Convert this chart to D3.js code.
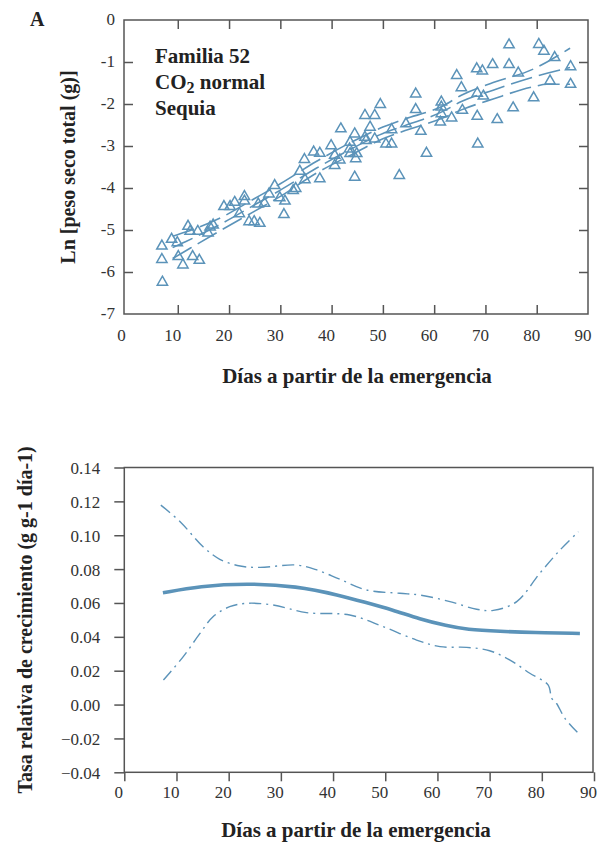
<!DOCTYPE html>
<html>
<head>
<meta charset="utf-8">
<script src="https://cdn.jsdelivr.net/npm/d3@7"></script>
<style>
  body { margin: 0; background: #fff; }
  svg { display: block; }
  text { font-family: "Liberation Serif", "DejaVu Serif", serif; }
</style>
</head>
<body>
<div id="graph"></div>
<script>
// ---- data ----
// panel A: days after emergence, ln total dry weight
var obsDays = [6.9,6.9,7.0,8.8,9.9,10.1,11.0,12.0,12.4,12.9,13.9,14.2,15.9,16.3,16.9,19.0,20.2,21.1,22.0,23.0,23.0,23.9,24.9,25.7,26.0,26.9,27.8,28.9,29.9,30.7,30.9,32.5,33.0,33.8,34.7,34.8,36.5,37.7,37.7,39.9,40.6,40.6,41.6,41.8,43.5,43.6,43.6,44.5,44.5,44.7,44.9,46.5,46.5,46.7,47.5,48.4,48.4,49.5,50.6,51.7,51.7,53.2,54.5,56.4,56.4,57.4,58.5,61.2,61.4,61.4,61.4,63.4,64.4,65.3,65.5,68.3,68.4,68.4,68.5,69.4,69.6,71.4,72.3,74.6,74.6,75.4,76.4,79.4,80.4,81.4,82.6,83.5,86.6,86.6];
var obsLnW = [-5.37,-5.69,-6.23,-5.21,-5.29,-5.62,-5.82,-4.90,-5.02,-5.62,-5.02,-5.71,-5.06,-4.92,-4.87,-4.43,-4.43,-4.33,-4.60,-4.19,-4.30,-4.79,-4.79,-4.37,-4.83,-4.35,-4.13,-3.93,-4.22,-4.62,-4.30,-4.05,-4.00,-3.59,-3.31,-3.79,-3.13,-3.16,-3.77,-2.98,-3.21,-3.45,-3.32,-2.58,-3.06,-2.90,-3.17,-2.70,-3.73,-3.29,-3.17,-2.26,-2.78,-2.86,-2.54,-2.26,-2.82,-2.00,-2.94,-2.94,-2.60,-3.69,-2.46,-1.75,-2.12,-2.64,-3.16,-2.42,-1.94,-2.06,-2.22,-2.32,-1.31,-1.60,-2.14,-1.15,-1.73,-2.28,-2.94,-1.20,-1.80,-1.05,-2.36,-0.58,-1.05,-2.08,-1.25,-1.84,-0.57,-0.73,-1.44,-0.88,-1.10,-1.52];

// panel A fitted curve and bands
var fitDays  = [9, 11.5, 18.5, 25, 30, 37, 44, 50, 53.7, 61.8, 65.3, 71.5, 79.3, 82, 86.5];
var fitMid   = [-5.42, -5.28, -4.85, -4.40, -4.05, -3.53, -3.06, -2.70, -2.54, -2.17, -1.94, -1.67, -1.36, -1.27, -1.13];
var fitUpper = [-5.15, -5.05, -4.70, -4.25, -3.90, -3.37, -2.90, -2.55, -2.38, -2.04, -1.79, -1.49, -1.17, -1.00, -0.67];
var fitLower = [-5.68, -5.50, -5.00, -4.55, -4.20, -3.65, -3.20, -2.83, -2.66, -2.33, -2.14, -1.88, -1.59, -1.53, -1.53];

// panel B: relative growth rate
var rgrDays = [7.4, 14.5, 23.4, 33, 41.3, 46, 51.5, 56.6, 61.8, 65.6, 72, 78.4, 87.3];
var rgrMid  = [0.066, 0.070, 0.0716, 0.070, 0.0645, 0.0605, 0.0558, 0.0505, 0.0465, 0.0443, 0.0432, 0.0425, 0.042];
var upDays  = [7.0, 10.7, 15.1, 18.3, 22.2, 26, 33, 36.9, 41.3, 46.4, 52.8, 56.6, 62.4, 67.5, 70.7, 75.2, 79.6, 83.5, 87];
var rgrUp   = [0.1178, 0.108, 0.0932, 0.0858, 0.0818, 0.081, 0.0824, 0.0795, 0.074, 0.0677, 0.0657, 0.0647, 0.0608, 0.0563, 0.0556, 0.0608, 0.0775, 0.0913, 0.102];
var loDays  = [7.5, 11.3, 14.5, 17, 20.2, 23.4, 28.5, 34.9, 43.2, 49.6, 56, 60.5, 65.6, 70, 73.9, 77.7, 81.2, 81.9, 82.8, 84.4, 87];
var rgrLo   = [0.0145, 0.0283, 0.042, 0.0519, 0.0578, 0.0598, 0.0588, 0.0543, 0.0529, 0.046, 0.0381, 0.0342, 0.0338, 0.0318, 0.0263, 0.0185, 0.0116, 0.0037, 0.0008, -0.008, -0.017];

var xTicks = [0, 10, 20, 30, 40, 50, 60, 70, 80, 90];
var lnTicks = [0, -1, -2, -3, -4, -5, -6, -7];
var rgrTicks = [0.14, 0.12, 0.10, 0.08, 0.06, 0.04, 0.02, 0.00, -0.02, -0.04];

var blue = "#5b93b9";
var axisCol = "#555";

var svg = d3.select("#graph").append("svg")
    .attr("width", 598)
    .attr("height", 845);

svg.append("rect").attr("width", 598).attr("height", 845).attr("fill", "#fff");

function zip(a, b) {
    return a.map(function(v, i) { return [v, b[i]]; });
}

// ================= panel A =================
var xA = d3.scaleLinear().domain([0, 90]).range([126.5, 588]);
var yA = d3.scaleLinear().domain([-7, 0]).range([314, 20]);

var gA = svg.append("g");

gA.append("rect")
    .attr("x", 124).attr("y", yA(0))
    .attr("width", xA(90) - 124).attr("height", yA(-7) - yA(0))
    .attr("fill", "none").attr("stroke", axisCol).attr("stroke-width", 1.5);

var axA_bottom = gA.append("g")
    .attr("transform", "translate(0," + yA(-7) + ")")
    .call(d3.axisBottom(xA).tickValues(xTicks.slice(1, 9)).tickSize(-9).tickFormat(""));
var axA_top = gA.append("g")
    .attr("transform", "translate(0," + yA(0) + ")")
    .call(d3.axisTop(xA).tickValues(xTicks.slice(1, 9)).tickSize(-9).tickFormat(""));
var axA_left = gA.append("g")
    .attr("transform", "translate(124,0)")
    .call(d3.axisLeft(yA).tickValues(lnTicks.slice(1, 7)).tickSize(-9).tickFormat(""));
var axA_right = gA.append("g")
    .attr("transform", "translate(" + xA(90) + ",0)")
    .call(d3.axisRight(yA).tickValues(lnTicks.slice(1, 7)).tickSize(-9).tickFormat(""));

[axA_bottom, axA_top, axA_left, axA_right].forEach(function(a) {
    a.select(".domain").remove();
    a.selectAll("line").attr("stroke", axisCol).attr("stroke-width", 1.5);
});

// tick labels panel A
gA.selectAll(".xlabA")
    .data(xTicks)
    .enter().append("text")
    .attr("x", function(d) { return xA(d) - 5; })
    .attr("y", 341)
    .attr("text-anchor", "middle")
    .attr("font-size", 17)
    .attr("fill", "#333")
    .text(function(d) { return d; });

gA.selectAll(".ylabA")
    .data(lnTicks)
    .enter().append("text")
    .attr("x", 115)
    .attr("y", function(d) { return yA(d) + 5; })
    .attr("text-anchor", "end")
    .attr("font-size", 17)
    .attr("fill", "#333")
    .text(function(d) { return d; });

// fitted lines
var lineA = d3.line()
    .x(function(d) { return xA(d[0]); })
    .y(function(d) { return yA(d[1]); })
    .curve(d3.curveMonotoneX);

[fitUpper, fitMid, fitLower].forEach(function(s) {
    gA.append("path")
        .datum(zip(fitDays, s))
        .attr("d", lineA)
        .attr("fill", "none")
        .attr("stroke", blue)
        .attr("stroke-width", 1.6)
        .attr("stroke-dasharray", "22,7");
});

// observations
var tri = d3.symbol().type(d3.symbolTriangle).size(46);
gA.selectAll(".obs")
    .data(zip(obsDays, obsLnW))
    .enter().append("path")
    .attr("d", tri)
    .attr("transform", function(d) { return "translate(" + xA(d[0]) + "," + (yA(d[1]) + 0.5) + ")"; })
    .attr("fill", "none")
    .attr("stroke", blue)
    .attr("stroke-width", 1.5);

// annotation
var note = gA.append("text")
    .attr("font-size", 21)
    .attr("font-weight", "bold")
    .attr("fill", "#222");
note.append("tspan").attr("x", 155).attr("y", 63).text("Familia 52");
var co2 = note.append("tspan").attr("x", 155).attr("y", 89);
co2.append("tspan").text("CO");
co2.append("tspan").attr("font-size", 16).attr("dy", 4).text("2");
co2.append("tspan").attr("dy", -4).text(" normal");
note.append("tspan").attr("x", 155).attr("y", 115).text("Sequia");

gA.append("text")
    .attr("x", 30).attr("y", 26)
    .attr("font-size", 20).attr("font-weight", "bold").attr("fill", "#222")
    .text("A");

gA.append("text")
    .attr("transform", "translate(75," + ((yA(0) + yA(-7)) / 2) + ") rotate(-90)")
    .attr("text-anchor", "middle")
    .attr("font-size", 20).attr("font-weight", "bold").attr("fill", "#222")
    .text("Ln [peso seco total (g)]");

gA.append("text")
    .attr("x", 357).attr("y", 383)
    .attr("text-anchor", "middle")
    .attr("font-size", 21).attr("font-weight", "bold").attr("fill", "#222")
    .text("Días a partir de la emergencia");

// ================= panel B =================
var xB = d3.scaleLinear().domain([0, 90]).range([124.3, 594]);
var yB = d3.scaleLinear().domain([-0.04, 0.14]).range([772.3, 467.5]);

var gB = svg.append("g");

gB.append("rect")
    .attr("x", xB(0)).attr("y", yB(0.14))
    .attr("width", xB(90) - xB(0) - 1).attr("height", yB(-0.04) - yB(0.14))
    .attr("fill", "none").attr("stroke", axisCol).attr("stroke-width", 1.5);

var axB_left = gB.append("g")
    .attr("transform", "translate(" + xB(0) + ",0)")
    .call(d3.axisLeft(yB).tickValues(rgrTicks).tickSize(10).tickPadding(14)
        .tickFormat(d3.format(".2f")));
var axB_bottom = gB.append("g")
    .attr("transform", "translate(0," + yB(-0.04) + ")")
    .call(d3.axisBottom(xB).tickValues(xTicks).tickSize(9).tickPadding(5));

[axB_left, axB_bottom].forEach(function(a) {
    a.select(".domain").remove();
    a.selectAll("line").attr("stroke", axisCol).attr("stroke-width", 1.5);
    a.selectAll("text")
        .style("font-family", "'Liberation Serif', serif")
        .attr("font-size", 17)
        .attr("fill", "#333");
});
axB_bottom.selectAll("text").attr("dx", -6);
axB_left.selectAll("text").attr("dy", "0.35em");

var lineB = d3.line()
    .x(function(d) { return xB(d[0]); })
    .y(function(d) { return yB(d[1]); })
    .curve(d3.curveCatmullRom);

gB.append("path")
    .datum(zip(upDays, rgrUp))
    .attr("d", lineB)
    .attr("fill", "none").attr("stroke", blue).attr("stroke-width", 1.4)
    .attr("stroke-dasharray", "12,5,2,5");

gB.append("path")
    .datum(zip(loDays, rgrLo))
    .attr("d", lineB)
    .attr("fill", "none").attr("stroke", blue).attr("stroke-width", 1.4)
    .attr("stroke-dasharray", "12,5,2,5");

gB.append("path")
    .datum(zip(rgrDays, rgrMid))
    .attr("d", lineB.curve(d3.curveBasis))
    .attr("fill", "none").attr("stroke", blue).attr("stroke-width", 3.6)
    .attr("stroke-linecap", "butt");

gB.append("text")
    .attr("transform", "translate(32," + ((yB(0.14) + yB(-0.04)) / 2) + ") rotate(-90)")
    .attr("text-anchor", "middle")
    .attr("font-size", 20).attr("font-weight", "bold").attr("fill", "#222")
    .text("Tasa relativa de crecimiento (g g-1 día-1)");

gB.append("text")
    .attr("x", 356).attr("y", 837)
    .attr("text-anchor", "middle")
    .attr("font-size", 21).attr("font-weight", "bold").attr("fill", "#222")
    .text("Días a partir de la emergencia");
</script>
</body>
</html>
